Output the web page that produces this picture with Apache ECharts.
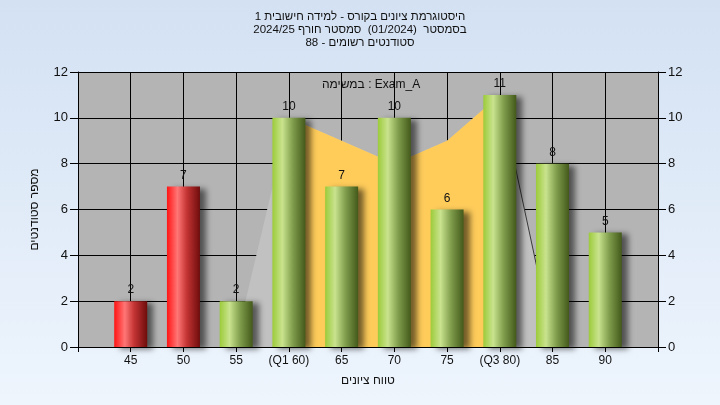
<!DOCTYPE html>
<html>
<head>
<meta charset="utf-8">
<script src="https://cdn.jsdelivr.net/npm/echarts@6/dist/echarts.min.js"></script>
<style>
html,body{margin:0;padding:0;}
#c{width:720px;height:405px;background:linear-gradient(to bottom,#d3e1f3 0%,#eef5fd 100%);}
</style>
</head>
<body>
<div id="c"></div>
<script>
// ---- data ----
const categories = ['45', '50', '55', '(Q1 60)', '65', '70', '75', '(Q3 80)', '85', '90'];
const counts = [2, 7, 2, 10, 7, 10, 6, 11, 8, 5];
const failing = [true, true, false, false, false, false, false, false, false, false];
const envelope = [null, null, 0.3, 10, 9.0, 8.0, 9.0, 11, 0.3, null];
const q1Index = 3;
const q3Index = 7;
// title pieces, listed in left-to-right visual order per line (text reads right-to-left)
const titleLine1 = ['1 ', 'היסטוגרמת ציונים בקורס - למידה חישובית'];
const titleLine2 = ['2024/25 ', 'סמסטר חורף', '  (01/2024)  ', 'בסמסטר'];
const titleLine3 = ['88 - ', 'סטודנטים רשומים'];
const legendText = 'במשימה : Exam_A';
const xTitle = 'טווח ציונים';
const yTitle = 'מספר סטודנטים';

// ---- build ----
const axisCats = [''].concat(categories, ['']);
const pad = a => [null].concat(a, [null]);
const font = '"Liberation Sans", "DejaVu Sans", Arial, sans-serif';
const titleFont = '11.5px ' + font;

const mctx = document.createElement('canvas').getContext('2d');
mctx.font = titleFont;
const titleGraphics = [];
[titleLine1, titleLine2, titleLine3].forEach((parts, li) => {
  const widths = parts.map(p => mctx.measureText(p).width);
  const total = widths.reduce((a, b) => a + b, 0);
  let x = 360 - total / 2;
  parts.forEach((p, pi) => {
    titleGraphics.push({
      type: 'text', x: x, y: 17 + li * 13, silent: true,
      style: {text: p, font: titleFont, fill: '#111', textAlign: 'left', textVerticalAlign: 'middle'}
    });
    x += widths[pi];
  });
});

const redGrad = {type:'linear',x:0,y:0,x2:1,y2:0,colorStops:[
  {offset:0,color:'#ff1414'},{offset:0.32,color:'#ff7676'},{offset:0.6,color:'#c43434'},{offset:1,color:'#6e0c0c'}]};
const greenGrad = {type:'linear',x:0,y:0,x2:1,y2:0,colorStops:[
  {offset:0,color:'#9ccb3a'},{offset:0.3,color:'#c9e38e'},{offset:0.62,color:'#7f9d4c'},{offset:1,color:'#43591a'}]};

const barData = pad(counts.map((v, i) => ({
  value: v,
  itemStyle: {color: failing[i] ? redGrad : greenGrad}
})));

const grayArea = pad(envelope);
const yellowArea = pad(envelope.map((v, i) => (i >= q1Index && i <= q3Index) ? v : null));
const edgeLine = pad(envelope.map((v, i) => (i >= q3Index && v !== null) ? v : null));

const chart = echarts.init(document.getElementById('c'), null, {renderer:'canvas'});
chart.setOption({
  backgroundColor: 'transparent',
  animation: false,
  textStyle: {fontFamily: font},
  graphic: titleGraphics.concat([{
    type: 'text', left: 322, top: 79,
    style: {text: legendText, fontSize: 12, fill: '#111', font: '12px ' + font}
  }]),
  grid: {left: 78, right: 62, top: 72, bottom: 58, show: true, backgroundColor: '#b4b4b4', borderWidth: 0},
  xAxis: {
    type: 'category', data: axisCats, boundaryGap: false,
    axisLine: {show: true, lineStyle: {color: '#000', width: 1}},
    axisTick: {show: true, length: 5, lineStyle: {color: '#000'}, interval: 0},
    axisLabel: {color: '#111', fontSize: 12, margin: 8, interval: 0, fontFamily: font},
    splitLine: {show: true, lineStyle: {color: '#000', width: 1}, interval: 0},
    name: xTitle, nameLocation: 'middle', nameGap: 28,
    nameTextStyle: {color: '#111', fontSize: 12, fontFamily: font}
  },
  yAxis: [{
    type: 'value', min: 0, max: 12, interval: 2, position: 'left',
    axisLine: {show: true, lineStyle: {color: '#000'}},
    axisTick: {show: true, length: 8, lineStyle: {color: '#000'}},
    axisLabel: {color: '#111', fontSize: 13, margin: 10, fontFamily: font},
    splitLine: {show: true, lineStyle: {color: '#000', width: 1}},
    name: yTitle, nameLocation: 'middle', nameGap: 37, nameRotate: 90,
    nameTextStyle: {color: '#111', fontSize: 12, fontFamily: font}
  }, {
    type: 'value', min: 0, max: 12, interval: 2, position: 'right',
    axisLine: {show: true, lineStyle: {color: '#000'}},
    axisTick: {show: true, length: 8, lineStyle: {color: '#000'}},
    axisLabel: {color: '#111', fontSize: 13, margin: 10, fontFamily: font},
    splitLine: {show: false}
  }],
  series: [{
    type: 'line', data: grayArea, symbol: 'none', connectNulls: false,
    lineStyle: {width: 0}, areaStyle: {color: '#c1c1c1', opacity: 1}, z: 1, silent: true
  }, {
    type: 'line', data: yellowArea, symbol: 'none', connectNulls: false,
    lineStyle: {width: 0}, areaStyle: {color: '#ffcc5a', opacity: 1}, z: 2, silent: true
  }, {
    type: 'line', data: edgeLine, symbol: 'none', connectNulls: false,
    lineStyle: {width: 1, color: '#3a3a3a'}, z: 3, silent: true
  }, {
    type: 'bar', data: barData, barWidth: 33, z: 5,
    itemStyle: {shadowColor: 'rgba(0,0,0,0.55)', shadowBlur: 6, shadowOffsetX: 6, shadowOffsetY: 2},
    label: {show: true, position: 'top', distance: 5, color: '#111', fontSize: 12, fontFamily: font}
  }]
});
</script>
</body>
</html>
